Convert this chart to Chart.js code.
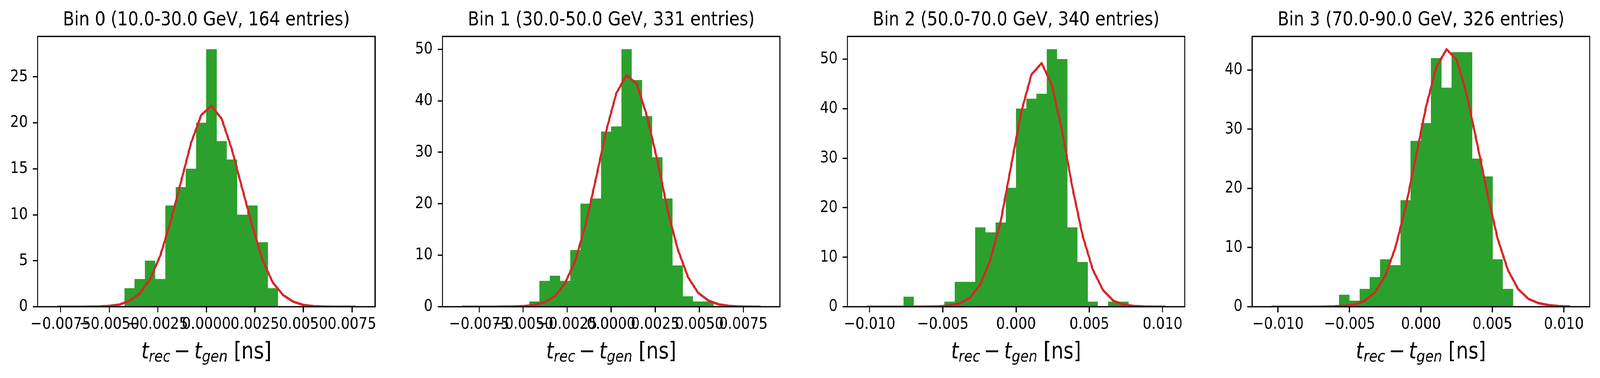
<!DOCTYPE html>
<html>
<head>
<meta charset="utf-8">
<script src="https://cdn.jsdelivr.net/npm/chart.js@4.4.1/dist/chart.umd.min.js"></script>
<style>
html, body { margin: 0; padding: 0; background: #ffffff; overflow: hidden; }
#wrap { position: relative; overflow: hidden; background: #ffffff; }
#stage { position: absolute; left: 0; top: 0; width: 4792px; height: 968px; transform-origin: 0 0; }
#stage canvas { position: absolute; top: 0; }
</style>
</head>
<body>
<div id="wrap"><div id="stage"></div></div>
<script>
// ---------------- data ----------------
const titles = [
  'Bin 0 (10.0-30.0 GeV, 164 entries)',
  'Bin 1 (30.0-50.0 GeV, 331 entries)',
  'Bin 2 (50.0-70.0 GeV, 340 entries)',
  'Bin 3 (70.0-90.0 GeV, 326 entries)'
];
// histogram range (30 equal bins) for each energy bin
const histRanges = [
  [-0.0079, 0.0079],
  [-0.00871, 0.00871],
  [-0.01047, 0.01047],
  [-0.01073, 0.01073]
];
const nBins = 30;

const counts0 = [0,0,0,0,0,0,0,2,3,5,3,11,13,15,20,28,18,16,10,11,7,2,0,0,0,0,0,0,0,0];
const counts1 = [0,0,0,0,0,0,0,1,5,6,5,11,20,21,34,35,50,44,37,29,21,8,2,1,1,0,0,0,0,0];
const counts2 = [0,0,0,0,2,0,0,0,1,5,5,16,15,17,24,40,42,43,52,50,16,9,1,0,1,1,0,0,0,0];
const counts3 = [0,0,0,0,0,0,0,2,1,3,5,8,7,18,28,31,42,37,43,43,25,22,8,3,0,0,0,0,0,0];

// gaussian fit evaluated at the bin centres
const fit0 = [0.00,0.00,0.00,0.01,0.03,0.09,0.23,0.66,1.46,3.02,5.58,9.24,13.5,17.8,20.85,21.85,20.43,17.1,12.9,8.76,5.06,2.64,1.27,0.55,0.19,0.06,0.02,0.00,0.00,0.00];
const fit1 = [0.00,0.00,0.00,0.00,0.02,0.05,0.13,0.34,0.91,2.03,4.64,9.04,16.0,24.8,34.1,41.46,45.0,43.26,37.0,28.5,18.9,11.2,5.8,2.7,1.2,0.47,0.17,0.05,0.01,0.00];
const fit2 = [0.00,0.00,0.00,0.00,0.00,0.01,0.02,0.07,0.25,0.67,1.83,4.5,9.6,17.3,28.3,39.3,46.9,49.2,44.8,35.5,24.2,14.4,7.5,3.35,1.23,0.42,0.14,0.04,0.01,0.00];
const fit3 = [0.00,0.00,0.00,0.00,0.00,0.01,0.05,0.15,0.35,1.03,2.4,5.2,10.0,16.8,25.3,33.8,40.5,43.5,41.7,35.7,27.5,19.1,11.5,6.2,3.0,1.33,0.6,0.27,0.1,0.03];

// tick values and labels
const xTicksFine = [-0.0075, -0.005, -0.0025, 0, 0.0025, 0.005, 0.0075];
const xLabelsFine = ['\u22120.0075', '\u22120.0050', '\u22120.0025', '0.0000', '0.0025', '0.0050', '0.0075'];
const xTicksCoarse = [-0.01, -0.005, 0, 0.005, 0.01];
const xLabelsCoarse = ['\u22120.010', '\u22120.005', '0.000', '0.005', '0.010'];
const yTicks0 = [0, 5, 10, 15, 20, 25];
const yTicks1 = [0, 10, 20, 30, 40, 50];
const yTicks2 = [0, 10, 20, 30, 40, 50];
const yTicks3 = [0, 10, 20, 30, 40];

// ---------------- layout / style ----------------
const FAMILY = '"DejaVu Sans", sans-serif';
const W = 4792, H = 968;
const canvasLefts = [0, 1212, 2425, 3637];
const canvasWidths = [1212, 1213, 1212, 1155];
const panelLefts = [112.7, 1325.3, 2537.9, 3750.5];
const plotWidth = 1010.6;
const plotTop = 93.3, plotBottom = 785.5;
const GREEN = '#2ca02c', RED = '#d62728';

// map the 4792x968 design onto the actual viewport (the window may be narrower)
const sx = (window.innerWidth || W) / W;
const sy = (window.innerHeight || H) / H;
const wrap = document.getElementById('wrap');
const stage = document.getElementById('stage');
wrap.style.width = (W * sx) + 'px';
wrap.style.height = (H * sy) + 'px';
stage.style.transform = `scale(${sx}, ${sy})`;

const panels = [
  { counts: counts0, fit: fit0, xt: xTicksFine,   xl: xLabelsFine,   yt: yTicks0 },
  { counts: counts1, fit: fit1, xt: xTicksFine,   xl: xLabelsFine,   yt: yTicks1 },
  { counts: counts2, fit: fit2, xt: xTicksCoarse, xl: xLabelsCoarse, yt: yTicks2 },
  { counts: counts3, fit: fit3, xt: xTicksCoarse, xl: xLabelsCoarse, yt: yTicks3 }
];

const framePlugin = {
  id: 'frame',
  afterDatasetsDraw(chart) {
    const { ctx, chartArea: a } = chart;
    ctx.save();
    ctx.strokeStyle = '#000';
    ctx.lineWidth = 3.33;
    ctx.strokeRect(a.left, a.top, a.right - a.left, a.bottom - a.top);
    ctx.restore();
  }
};

const xLabelPlugin = {
  id: 'xlabel',
  afterDraw(chart) {
    const { ctx, chartArea: a } = chart;
    const big = 58.33, small = big * 0.7, sub = 8.5, opGap = 11.4;
    const it = s => `italic ${s}px ${FAMILY}`;
    const rm = s => `normal ${s}px ${FAMILY}`;
    const segs = [
      { t: 't', f: it(big), dy: 0 },
      { t: 'rec', f: it(small), dy: sub },
      { gap: opGap },
      { t: '\u2212', f: rm(big), dy: 0 },
      { gap: opGap },
      { t: 't', f: it(big), dy: 0 },
      { t: 'gen', f: it(small), dy: sub },
      { t: ' [ns]', f: rm(big), dy: 0 }
    ];
    ctx.save();
    let total = 0;
    segs.forEach(s => {
      if (s.gap) { s.w = s.gap; } else { ctx.font = s.f; s.w = ctx.measureText(s.t).width; }
      total += s.w;
    });
    let x = (a.left + a.right) / 2 - total / 2;
    const base = a.bottom + 132.2;
    ctx.fillStyle = '#000';
    ctx.textBaseline = 'alphabetic';
    ctx.textAlign = 'left';
    segs.forEach(s => {
      if (!s.gap) { ctx.font = s.f; ctx.fillText(s.t, x, base + s.dy); }
      x += s.w;
    });
    ctx.restore();
  }
};

panels.forEach((p, i) => {
  const cv = document.createElement('canvas');
  cv.width = canvasWidths[i];
  cv.height = H;
  cv.style.left = canvasLefts[i] + 'px';
  cv.style.width = canvasWidths[i] + 'px';
  cv.style.height = H + 'px';
  stage.appendChild(cv);

  const [lo, hi] = histRanges[i];
  const bw = (hi - lo) / nBins;
  const centers = p.counts.map((_, k) => lo + (k + 0.5) * bw);
  const span = hi - lo;
  const xMin = lo - 0.05 * span, xMax = hi + 0.05 * span;
  const yMax = 1.05 * Math.max(...p.counts, ...p.fit);
  const yAxisW = panelLefts[i] - canvasLefts[i];
  const padRight = canvasWidths[i] - yAxisW - plotWidth;

  const tickFont = { family: FAMILY, size: 41.67, lineHeight: 1.2 };
  const gridOpts = { display: true, drawOnChartArea: false, drawTicks: true, tickLength: 14.6, tickWidth: 3.33, tickColor: '#000', offset: false };

  new Chart(cv, {
    type: 'bar',
    data: {
      datasets: [
        {
          type: 'line',
          data: centers.map((x, k) => ({ x, y: p.fit[k] })),
          borderColor: RED,
          borderWidth: 6.25,
          pointRadius: 0,
          tension: 0,
          fill: false,
          borderJoinStyle: 'round',
          borderCapStyle: 'square',
          order: 0
        },
        {
          type: 'bar',
          data: centers.map((x, k) => ({ x, y: p.counts[k] })),
          backgroundColor: GREEN,
          borderWidth: 0,
          barPercentage: 1,
          categoryPercentage: 1,
          order: 1
        }
      ]
    },
    options: {
      responsive: false,
      animation: false,
      devicePixelRatio: 1,
      layout: { padding: { left: 0, top: 0, right: padRight, bottom: 0 } },
      plugins: {
        legend: { display: false },
        tooltip: { enabled: false },
        title: {
          display: true,
          text: titles[i],
          fullSize: false,
          color: '#000',
          font: { family: FAMILY, size: 50, weight: 'normal', lineHeight: 1.2 },
          padding: { top: 22, bottom: plotTop - 22 - 60 }
        }
      },
      scales: {
        x: {
          type: 'linear',
          min: xMin,
          max: xMax,
          offset: false,
          border: { display: false },
          grid: gridOpts,
          ticks: {
            autoSkip: false, maxRotation: 0, minRotation: 0, color: '#000',
            font: tickFont, padding: 6,
            callback: (v, idx) => p.xl[idx]
          },
          afterBuildTicks: s => { s.ticks = p.xt.map(v => ({ value: v })); },
          afterFit: s => { s.height = H - plotBottom; }
        },
        y: {
          type: 'linear',
          min: 0,
          max: yMax,
          border: { display: false },
          grid: gridOpts,
          ticks: {
            autoSkip: false, color: '#000',
            font: tickFont, padding: 14.6,
            callback: (v) => String(v)
          },
          afterBuildTicks: s => { s.ticks = p.yt.map(v => ({ value: v })); },
          afterFit: s => { s.width = yAxisW; }
        }
      }
    },
    plugins: [framePlugin, xLabelPlugin]
  });
});
</script>
</body>
</html>
